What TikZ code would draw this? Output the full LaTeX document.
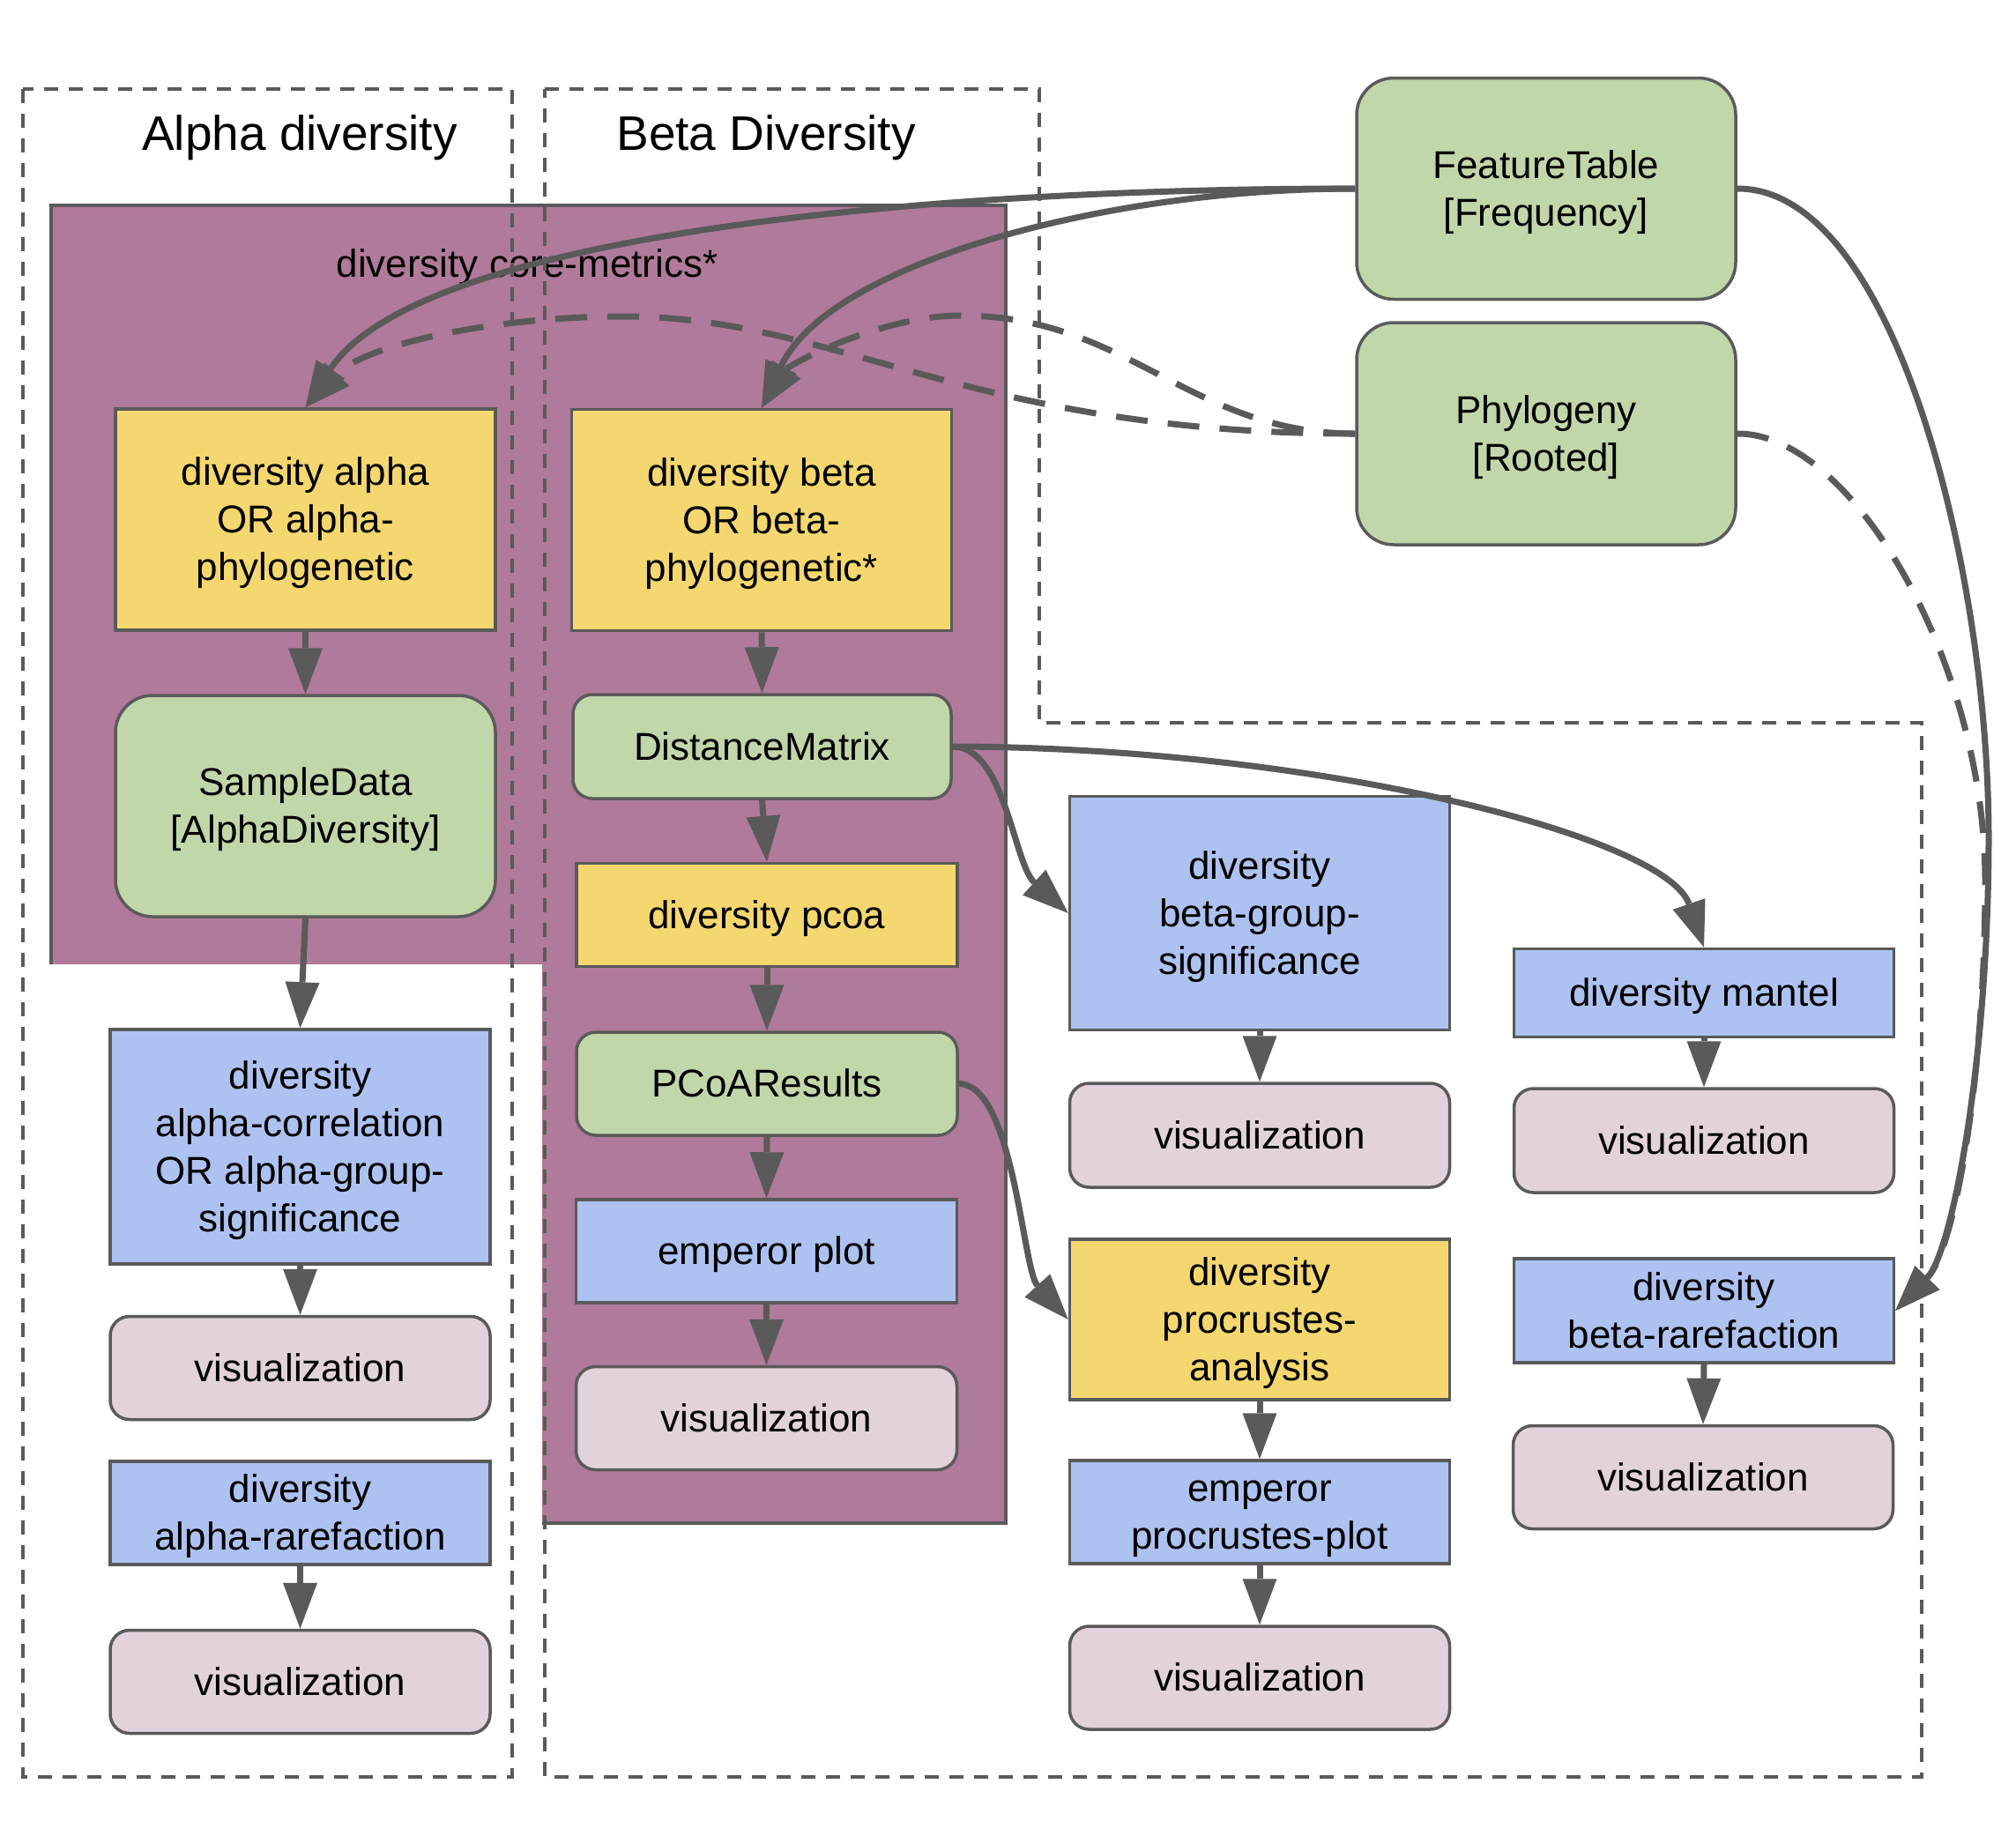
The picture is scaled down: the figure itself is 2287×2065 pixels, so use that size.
\documentclass[tikz,border=0pt]{standalone}
\usepackage{fontspec}
\setmainfont{Liberation Sans}
\usetikzlibrary{arrows.meta}

\definecolor{linegray}{HTML}{5A5A5A}
\definecolor{coremauve}{HTML}{B07A9A}
\definecolor{artgreen}{HTML}{C1D7AA}
\definecolor{actyellow}{HTML}{F4D76F}
\definecolor{vizblue}{HTML}{ADC2F0}
\definecolor{vizpink}{HTML}{E1D2DB}

\newcommand{\boxfont}{\fontsize{44}{54}\selectfont}
\newcommand{\titlefont}{\fontsize{55}{66}\selectfont}
% fixed line metrics so every label sits at the same height in its box
\newcommand{\lstr}{\rule[-10pt]{0pt}{50pt}}

\begin{document}
\begin{tikzpicture}[x=1pt,y=-1pt,
  box/.style={draw=linegray, line width=3.5pt, inner sep=0pt, align=center,
    font=\boxfont, text=black, minimum width=431pt},
  artbig/.style={box, fill=artgreen, rounded corners=42pt},
  artsmall/.style={box, fill=artgreen, rounded corners=22pt},
  action/.style={box, fill=actyellow},
  viewer/.style={box, fill=vizblue},
  vizbox/.style={box, fill=vizpink, rounded corners=22pt},
  group/.style={draw=linegray, line width=3.3pt, dash pattern=on 16pt off 12pt},
  edge/.style={draw=linegray, line width=7pt,
    -{Triangle[length=52pt,width=39pt,line width=0pt]}},
  dedge/.style={edge, dash pattern=on 36pt off 23pt},
]
\useasboundingbox (0,0) rectangle (2287,2065);

% core-metrics pipeline background
\fill[coremauve] (58,233) -- (1141,233) -- (1141,1728) -- (615,1728)
  -- (615,1094) -- (58,1094) -- cycle;
\draw[linegray, line width=3.5pt] (58,1094) -- (58,233) -- (1141,233)
  -- (1141,1728) -- (615,1728);
\node[font=\boxfont] (core) at (598,303) {diversity core-metrics*};

% alpha and beta groups
\draw[group] (26,101) rectangle (581,2016);
\draw[group] (618,101) -- (1179,101) -- (1179,820) -- (2180,820)
  -- (2180,2016) -- (618,2016) -- cycle;
\node[font=\titlefont] (alphatitle) at (340,156) {Alpha diversity};
\node[font=\titlefont] (betatitle) at (869,156) {Beta Diversity};

% inputs
\node[artbig, minimum width=430pt, minimum height=251pt] (ft) at (1754,214) {\lstr FeatureTable\\{}[Frequency]\lstr};
\node[artbig, minimum width=430pt, minimum height=252pt] (phy) at (1754,492) {\lstr Phylogeny\\{}[Rooted]\lstr};

% alpha column
\node[action, minimum height=251pt] (da) at (346.5,589.5) {\lstr diversity alpha\\OR alpha-\\phylogenetic\lstr};
\node[artbig, minimum height=251pt] (sd) at (346.5,914.5) {\lstr SampleData\\{}[AlphaDiversity]\lstr};
\node[viewer, minimum height=266pt] (ac) at (340.5,1301) {\lstr diversity\\alpha-correlation\\OR alpha-group-\\significance\lstr};
\node[vizbox, minimum height=117pt] (vz1) at (340.5,1552) {\lstr visualization};
\node[viewer, minimum height=117pt] (ar) at (340.5,1716.5) {\lstr diversity\\alpha-rarefaction\lstr};
\node[vizbox, minimum height=117pt] (vz2) at (340.5,1908) {\lstr visualization};

% beta column
\node[action, minimum height=251pt] (db) at (864,590) {\lstr diversity beta\\OR beta-\\phylogenetic*\lstr};
\node[artsmall, minimum width=429pt, minimum height=118pt] (dm) at (864.5,847) {\lstr DistanceMatrix};
\node[action, minimum width=432pt, minimum height=117pt] (pcoa) at (870,1038) {\lstr diversity pcoa};
\node[artsmall, minimum width=432pt, minimum height=117pt] (pr) at (870,1229.5) {\lstr PCoAResults};
\node[viewer, minimum width=432pt, minimum height=117pt] (emp) at (869.5,1419.5) {\lstr emperor plot};
\node[vizbox, minimum width=432pt, minimum height=117pt] (vz3) at (869.5,1609) {\lstr visualization};

% further beta analyses
\node[viewer, minimum height=265pt] (bgs) at (1429,1036) {\lstr diversity\\beta-group-\\significance\lstr};
\node[vizbox, minimum height=118pt] (vz4) at (1429,1288) {\lstr visualization};
\node[action, minimum height=182pt] (proc) at (1429,1497) {\lstr diversity\\procrustes-\\analysis\lstr};
\node[viewer, minimum height=117pt] (pp) at (1429,1715.5) {\lstr emperor\\procrustes-plot\lstr};
\node[vizbox, minimum height=117pt] (vz5) at (1429,1903.5) {\lstr visualization};
\node[viewer, minimum height=100pt] (mantel) at (1933,1126.5) {\lstr diversity mantel};
\node[vizbox, minimum height=118pt] (vz6) at (1933,1294) {\lstr visualization};
\node[viewer, minimum height=118pt] (br) at (1933,1487) {\lstr diversity\\beta-rarefaction\lstr};
\node[vizbox, minimum height=117pt] (vz7) at (1932,1676) {\lstr visualization};

% connectors from the inputs
\draw[dedge] (phy.west) .. controls (1100,492) and (950,359) .. (707,359)
  .. controls (560,359) and (414,391) .. (da.north);
\draw[dedge] (phy.west) .. controls (1350,492) and (1280,358) .. (1090,358)
  .. controls (1000,358) and (896,413) .. (db.north);
\draw[dedge] (phy.east) .. controls (2100,491) and (2252,750) .. (2252,1000)
  .. controls (2252,1220) and (2218,1417) .. (br.east);
\draw[edge] (ft.west) .. controls (1000,214) and (469,274) .. (da.north);
\draw[edge] (ft.west) .. controls (1250,214) and (940,300) .. (db.north);
\draw[edge] (ft.east) .. controls (2150,213) and (2256,650) .. (2256,950)
  .. controls (2256,1200) and (2215,1420) .. (br.east);

% alpha flow
\draw[edge] (da.south) -- (sd.north);
\draw[edge] (sd.south) -- (ac.north);
\draw[edge] (ac.south) -- (vz1.north);
\draw[edge] (ar.south) -- (vz2.north);

% beta flow
\draw[edge] (db.south) -- (dm.north);
\draw[edge] (dm.south) -- (pcoa.north);
\draw[edge] (pcoa.south) -- (pr.north);
\draw[edge] (pr.south) -- (emp.north);
\draw[edge] (emp.south) -- (vz3.north);
\draw[edge] (dm.east) .. controls (1140,847) and (1150,980) .. (bgs.west);
\draw[edge] (dm.east) .. controls (1500,848) and (1890,950) .. (mantel.north);
\draw[edge] (pr.east) .. controls (1150,1230) and (1160,1440) .. (proc.west);
\draw[edge] (bgs.south) -- (vz4.north);
\draw[edge] (mantel.south) -- (vz6.north);
\draw[edge] (proc.south) -- (pp.north);
\draw[edge] (pp.south) -- (vz5.north);
\draw[edge] (br.south) -- (vz7.north);
\end{tikzpicture}
\end{document}
